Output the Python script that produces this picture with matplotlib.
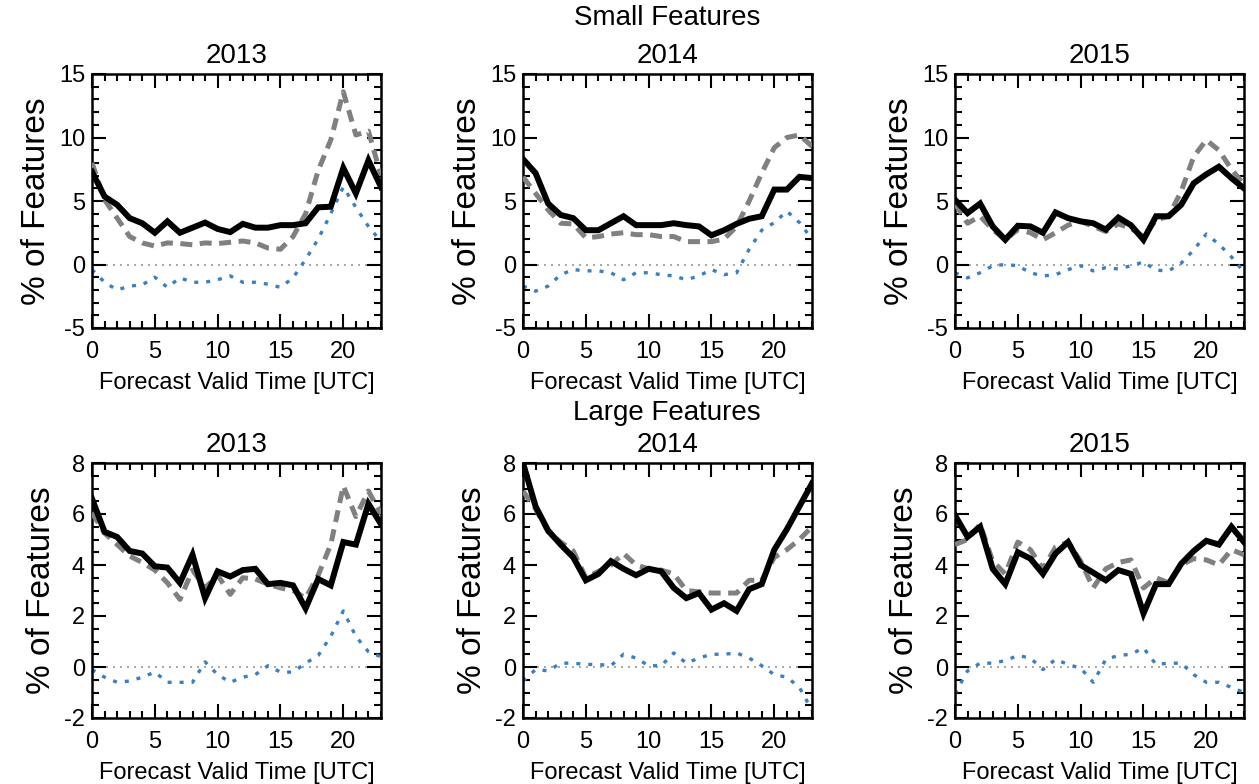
import matplotlib
matplotlib.use("Agg")
import matplotlib.pyplot as plt
from matplotlib.ticker import MultipleLocator

plt.rcParams['font.family'] = ['Liberation Sans', 'DejaVu Sans']
plt.rcParams['axes.unicode_minus'] = False

hours = list(range(24))
years = ["2013", "2014", "2015"]

small_2013_black = [7.3,5.35,4.7,3.65,3.25,2.5,3.4,2.5,2.9,3.3,2.8,2.55,3.2,2.9,2.9,3.1,3.1,3.25,4.5,4.55,7.6,5.6,8.2,6.1]
small_2013_gray = [8.0,5.1,3.65,2.2,1.7,1.45,1.7,1.65,1.55,1.7,1.65,1.75,1.85,1.7,1.3,1.2,2.2,4.0,7.4,9.8,13.6,10.2,10.5,7.0]
small_2013_blue = [-0.4,-1.4,-2.0,-1.7,-1.6,-1.0,-1.8,-1.05,-1.4,-1.4,-1.2,-0.9,-1.4,-1.4,-1.55,-1.8,-1.05,0.4,2.0,4.0,6.1,4.5,3.0,1.8]

small_2014_black = [8.3,7.2,4.8,3.9,3.65,2.7,2.7,3.25,3.8,3.1,3.1,3.1,3.25,3.1,3.0,2.3,2.7,3.2,3.6,3.8,5.9,5.9,6.9,6.8]
small_2014_gray = [6.9,5.6,4.3,3.25,3.2,2.1,2.2,2.4,2.5,2.35,2.35,2.2,2.2,1.8,1.8,1.8,2.0,3.0,5.0,7.2,9.2,10.0,10.2,9.3]
small_2014_blue = [-1.7,-2.1,-1.7,-0.8,-0.4,-0.5,-0.5,-0.65,-1.2,-0.65,-0.65,-0.8,-0.9,-1.2,-0.9,-0.4,-0.8,-0.65,1.2,2.7,3.3,4.2,3.3,2.0]

small_2015_black = [5.1,4.05,4.8,3.0,1.95,3.05,3.0,2.5,4.1,3.65,3.4,3.25,2.75,3.7,3.1,1.95,3.8,3.8,4.7,6.4,7.1,7.7,6.8,6.0]
small_2015_gray = [4.8,3.25,3.8,2.75,1.95,2.75,2.5,1.95,2.5,3.1,3.4,3.0,2.6,3.2,2.85,2.2,3.5,3.8,5.75,8.5,9.8,9.0,7.5,6.3]
small_2015_blue = [-0.65,-1.05,-0.65,-0.1,0.0,-0.1,-0.65,-0.9,-0.8,-0.4,-0.1,-0.5,-0.25,-0.35,-0.1,0.2,-0.45,-0.5,0.1,1.15,2.4,1.6,0.6,-0.6]

large_2013_black = [6.6,5.3,5.1,4.55,4.45,3.95,3.9,3.3,4.4,2.7,3.75,3.55,3.8,3.85,3.25,3.3,3.2,2.3,3.45,3.2,4.9,4.8,6.4,5.6]
large_2013_gray = [6.05,5.25,4.8,4.35,4.1,3.8,3.3,2.65,3.8,3.1,3.6,2.85,3.5,3.45,3.25,3.1,3.0,2.7,3.6,4.8,7.1,5.9,6.9,6.0]
large_2013_blue = [-0.1,-0.4,-0.6,-0.55,-0.4,-0.2,-0.6,-0.6,-0.6,0.2,-0.3,-0.6,-0.4,-0.3,0.05,-0.2,-0.2,0.15,0.45,1.2,2.2,1.2,0.6,0.4]

large_2014_black = [8.0,6.3,5.35,4.8,4.3,3.4,3.65,4.15,3.85,3.6,3.85,3.75,3.1,2.7,2.9,2.25,2.5,2.2,3.05,3.25,4.6,5.4,6.3,7.2]
large_2014_gray = [6.9,6.2,5.3,4.9,4.55,3.5,3.75,4.0,4.45,4.0,3.85,3.8,3.65,3.0,2.95,2.9,2.9,2.9,3.4,3.4,4.3,4.6,5.0,5.5]
large_2014_blue = [-0.55,-0.1,-0.15,0.15,0.15,0.1,0.1,0.05,0.5,0.35,0.05,0.05,0.55,0.15,0.35,0.5,0.5,0.55,0.35,0.05,-0.3,-0.4,-0.8,-1.7]

large_2015_black = [5.95,5.1,5.5,3.85,3.25,4.5,4.25,3.65,4.45,4.9,4.0,3.7,3.4,3.8,3.65,2.1,3.25,3.25,4.05,4.55,4.95,4.8,5.5,4.9]
large_2015_gray = [4.8,5.0,5.6,4.15,3.65,4.9,4.6,3.85,4.7,4.9,4.15,3.1,3.85,4.1,4.2,3.1,3.5,3.3,4.0,4.25,4.2,4.0,4.6,4.4]
large_2015_blue = [-1.05,-0.15,0.15,0.15,0.25,0.45,0.35,-0.1,0.3,0.1,-0.05,-0.6,0.3,0.45,0.5,0.75,0.1,0.15,0.15,-0.3,-0.6,-0.6,-0.8,-1.0]

small_series = [
    (small_2013_black, small_2013_gray, small_2013_blue),
    (small_2014_black, small_2014_gray, small_2014_blue),
    (small_2015_black, small_2015_gray, small_2015_blue),
]
large_series = [
    (large_2013_black, large_2013_gray, large_2013_blue),
    (large_2014_black, large_2014_gray, large_2014_blue),
    (large_2015_black, large_2015_gray, large_2015_blue),
]

W, H = 1259, 784
fig = plt.figure(figsize=(W / 100, H / 100), dpi=100)

lefts = [92, 523, 955]
aw = 289
rows = [(74, 328), (463, 718)]
TICK_FS = 17
XLAB_FS = 17
YLAB_FS = 24
TITLE_FS = 20

def make_ax(left, top, bottom):
    return fig.add_axes([left / W, 1 - bottom / H, aw / W, (bottom - top) / H])

for r, (series, ylim, major, minor) in enumerate([
        (small_series, (-5, 15), 5, 1),
        (large_series, (-2, 8), 2, 0.5)]):
    top, bottom = rows[r]
    for c in range(3):
        ax = make_ax(lefts[c], top, bottom)
        blk, gry, blu = series[c]
        ax.axhline(0, color='#9a9a9a', lw=1.2, linestyle=(0, (1.2, 3)), zorder=1)
        ax.plot(hours, blu, color='#3b7fc0', lw=2.4, linestyle=(0, (1.2, 2.4)), zorder=2)
        ax.plot(hours, gry, color='#808080', lw=3.6, linestyle=(0, (2.4, 1.5)), zorder=3)
        ax.plot(hours, blk, color='black', lw=4.3, zorder=4, solid_joinstyle='miter')
        ax.set_xlim(0, 23)
        ax.set_ylim(*ylim)
        ax.xaxis.set_major_locator(MultipleLocator(5))
        ax.xaxis.set_minor_locator(MultipleLocator(1))
        ax.yaxis.set_major_locator(MultipleLocator(major))
        ax.yaxis.set_minor_locator(MultipleLocator(minor))
        ax.tick_params(which='both', direction='in', top=True, right=True,
                       labelsize=TICK_FS, width=1.5)
        ax.tick_params(axis='x', pad=9)
        ax.tick_params(axis='y', pad=5)
        ax.tick_params(which='major', length=10)
        ax.tick_params(which='minor', length=5)
        for s in ax.spines.values():
            s.set_linewidth(1.8)
        ax.set_xlabel("Forecast Valid Time [UTC]", fontsize=XLAB_FS, labelpad=7)
        ax.set_ylabel("% of Features", fontsize=YLAB_FS, labelpad=5)
        ax.set_title(years[c], fontsize=TITLE_FS, pad=8)

fig.text(667 / W, 1 - 18 / H, "Small Features", ha='center', va='center', fontsize=TITLE_FS)
fig.text(667 / W, 1 - 413 / H, "Large Features", ha='center', va='center', fontsize=TITLE_FS)

fig.savefig("out.png", dpi=100)
